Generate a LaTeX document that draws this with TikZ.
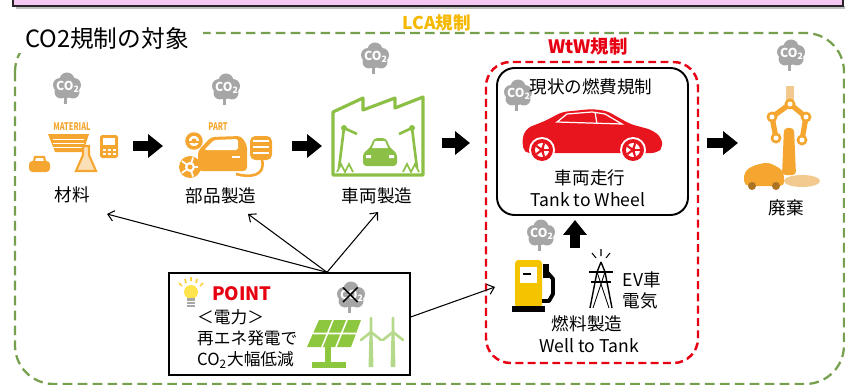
\documentclass[tikz,border=0pt]{standalone}
\usepackage{fontspec}
\setmainfont{Noto Sans CJK JP}
\usetikzlibrary{arrows.meta}

\definecolor{rose}{HTML}{F6C6F2}
\definecolor{lcavert}{HTML}{76A04E}
\definecolor{lcajaune}{HTML}{F5B800}
\definecolor{rouge}{HTML}{E60012}
\definecolor{rougev}{HTML}{E8141E}
\definecolor{orng}{HTML}{F5A631}
\definecolor{sable}{HTML}{F2C98E}
\definecolor{vertf}{HTML}{8CBF45}
\definecolor{vertc}{HTML}{8DC63F}
\definecolor{vertp}{HTML}{B5D98A}
\definecolor{gris}{HTML}{A6A6A6}
\definecolor{jaune}{HTML}{F5C400}
\definecolor{ampoule}{HTML}{FFE44D}

\begin{document}
\begin{tikzpicture}[
    x=0.02cm, y=-0.02cm,
    lbl/.style={font=\fontsize{10}{12}\selectfont},
    tag/.style={text=orng, font=\bfseries\fontsize{6}{6}\selectfont},
    blk/.style={line width=5.5pt, -{Triangle[length=8.5pt,width=13pt]}},
    fine/.style={line width=0.6pt, -{Straight Barb[length=3.5pt,width=6pt]}},
    co2/.pic={
        \fill[gris] (0,-7) circle (7.5) (-7,-2) circle (7) (7,-2) circle (7)
                    (-6,5) circle (6.5) (6,5) circle (6.5) (0,3) circle (8);
        \fill[gris] (-3,10) rectangle (0,17);
        \node[text=white, font=\bfseries\fontsize{7}{7}\selectfont] (-t) at (1,0) {CO\textsubscript{2}};
    }
]
\useasboundingbox (0,0) rectangle (845,385);

% Bandeau rose en haut
\fill[black!25] (16,6) rectangle (845,9);
\draw[fill=rose, draw=black!85, line width=1pt] (13,-20) rectangle (843,6);

% Cadre LCA
\draw[lcavert, line width=1.3pt, dash pattern=on 5.5pt off 3pt, rounded corners=22pt] (15,33) rectangle (844,384);
\node[fill=white, inner xsep=8pt, inner ysep=2pt, font=\fontsize{13.5}{15}\selectfont] (T) at (107,38) {CO2規制の対象};
\node[text=lcajaune, font=\bfseries\fontsize{10}{12}\selectfont] (L) at (437,23) {LCA規制};

% Cadre WtW
\draw[rouge, line width=1.4pt, dash pattern=on 4.5pt off 2.5pt, rounded corners=14pt] (486,62) rectangle (698,363);
\node[text=rouge, font=\bfseries\fontsize{10.5}{12}\selectfont] (W) at (588,47) {WtW規制};
\draw[line width=1.1pt, rounded corners=10pt] (497,68) rectangle (688,215);

% Nuages CO2
\pic (c1) at (67,87) {co2};
\pic (c2) at (226,88) {co2};
\pic (c3) at (375,57) {co2};
\pic (c4) at (518,94) {co2};
\pic (c5) at (541,234) {co2};
\pic (c6) at (791,54) {co2};
\pic (c7) at (351,296) {co2};

% Matériau
\node[tag] (mt) at (72,127) {\scalebox{0.7}[1]{MATERIAL}};
\fill[orng] (48,134) -- (89,134) -- (83,152) -- (55,152) -- cycle;
\foreach \y in {139,143,147} \draw[white, line width=0.5pt] (53,\y) -- (84,\y);
\draw[orng, line width=1.2pt, fill=orng!35] (83,146) -- (89,146) -- (89,155) -- (96,171) -- (76,171) -- (83,155) -- cycle;
\fill[orng, rounded corners=1pt] (100,135) rectangle (118,158);
\fill[white] (103,138) rectangle (115,145);
\foreach \x in {104,109,114} \foreach \y in {150,154} \fill[white] (\x-1.5,\y-1) rectangle (\x+1.5,\y+1);
\fill[orng, rounded corners=2pt] (29,161) rectangle (50,172);
\draw[orng, line width=1.2pt] (34,161) -- (35,157) -- (44,157) -- (45,161);
\node[lbl] (m) at (72,195) {材料};

% Pièces
\node[tag] (pa) at (218,127) {\scalebox{0.7}[1]{PART}};
\fill[orng] (190,167) circle (11);
\fill[white] (190,167) circle (5);
\foreach \a in {0,72,...,288} \draw[white, line width=1pt] (190,167) -- ++(\a:10);
\fill[orng] (190,167) circle (2.5);
\draw[orng, line width=2pt] (194,141) circle (7);
\fill[orng] (194,141) circle (2.5);
\draw[orng, line width=1.5pt] (187,142) -- (201,142);
\fill[orng, rounded corners=2pt] (198,171) -- (198,151) -- (211,137) -- (241,136) -- (247,145) -- (247,171) -- cycle;
\fill[white, rounded corners=1pt] (204,150) -- (214,140) -- (238,139) -- (238,150) -- cycle;
\fill[white] (232,156) rectangle (240,158);
\fill[orng, rounded corners=3pt] (250,136) rectangle (272,160);
\foreach \y in {141,147,153} \draw[white, line width=0.8pt] (253,\y) -- (269,\y);
\draw[orng, line width=1.5pt] (262,160) .. controls (266,176) and (250,178) .. (236,174);
\node[lbl] (p) at (221,196) {部品製造};

% Usine
\draw[vertf, line width=1.8pt, line join=round] (333,112) -- (363,98) -- (363,110) -- (395,98) -- (395,108) -- (423,97) -- (423,175) -- (333,175) -- cycle;
\fill[vertf, rounded corners=2pt] (363,166) -- (363,153) -- (370,148) -- (374,138) -- (386,138) -- (390,148) -- (397,153) -- (397,166) -- cycle;
\fill[white] (375,141) -- (385,141) -- (388,148) -- (372,148) -- cycle;
\fill[white] (366,155) rectangle (371,158) (389,155) rectangle (394,158);
\draw[vertf, line width=1.5pt] (339,168) -- (344,128) -- (357,134);
\draw[vertf, line width=1.5pt] (417,168) -- (412,128) -- (399,134);
\fill[vertf] (344,128) circle (3) (412,128) circle (3);
\draw[vertf, line width=1pt] (337,172) -- (341,164) -- (345,172) -- (349,164) -- (353,172);
\draw[vertf, line width=1pt] (403,172) -- (407,164) -- (411,172) -- (415,164) -- (419,172);
\node[lbl] (v) at (377,196) {車両製造};

% Voiture rouge
\node[lbl] (r) at (591,87) {現状の燃費規制};
\fill[rougev, rounded corners=3pt] (524,153) -- (522,138) -- (527,128) -- (545,121) -- (562,112) -- (592,109) -- (607,111) -- (630,124) -- (652,130) -- (661,137) -- (663,147) -- (657,153) -- cycle;
\draw[white, line width=0.7pt] (557,122) -- (567,114) -- (592,112) -- (605,114) -- (622,124) -- cycle;
\draw[white, line width=0.7pt] (595,112) -- (597,124);
\foreach \x in {542,633} {
    \fill[white] (\x,150) circle (13);
    \fill[rougev] (\x,150) circle (11);
    \fill[white] (\x,150) circle (7);
    \foreach \a in {0,72,...,288} \draw[rougev, line width=1.2pt] (\x,150) -- ++(\a:7);
    \fill[rougev] (\x,150) circle (2.5);
}
\node[lbl] (tw1) at (590,178) {車両走行};
\node[lbl] (tw2) at (588,200) {Tank to Wheel};

% Pompe et pylône
\fill[jaune, rounded corners=2pt] (515,260) rectangle (542,308);
\fill[white] (520,267) rectangle (537,283);
\draw[line width=1.2pt] (523,274) -- (531,274);
\fill (512,306) rectangle (545,312);
\draw[line width=2.2pt, line join=round] (542,301) -- (549,301) -- (553,294) -- (553,279) -- (547,272);
\fill (543,264) rectangle (549,278);
\draw[line width=0.6pt] (601,249) -- (601,256) (592,253) -- (596,258) (610,253) -- (606,258);
\draw[line width=0.8pt] (601,262) -- (597,272) -- (590,308) (601,262) -- (605,272) -- (612,308);
\draw[line width=0.8pt] (589,272) -- (613,272) (591,282) -- (611,282);
\draw[line width=0.5pt] (597,272) -- (609,308) (605,272) -- (593,308);
\node[lbl] (ev1) at (642,280) {EV車};
\node[lbl] (ev2) at (640,301) {電気};
\node[lbl] (wt1) at (587,324) {燃料製造};
\node[lbl] (wt2) at (589,346) {Well to Tank};

% Recyclage
\draw[sable, line width=5pt] (790,86) -- (790,104);
\draw[orng, line width=3pt, line join=round] (772,117) -- (790,104) -- (806,117);
\draw[orng, line width=3pt] (772,117) -- (776,138) (806,117) -- (802,140);
\fill[orng, rounded corners=2pt] (784,128) -- (794,128) -- (796,175) -- (782,175) -- cycle;
\foreach \x/\y in {772/117, 806/117, 776/138, 802/140, 790/104} {
    \fill[orng] (\x,\y) circle (5.5);
    \fill[white] (\x,\y) circle (2.5);
}
\fill[orng, rounded corners=3pt] (744,186) -- (744,172) -- (752,166) -- (768,162) -- (783,170) -- (785,186) -- cycle;
\fill[orng!70!black] (752,186) circle (4) (776,186) circle (4);
\fill[sable] (802,181) ellipse (18 and 6);
\node[lbl] (d) at (786,208) {廃棄};

% Flèches pleines
\coordinate (A1) at (133,146); \coordinate (B1) at (163,146);
\coordinate (A2) at (292,146); \coordinate (B2) at (322,146);
\coordinate (A3) at (442,143); \coordinate (B3) at (470,143);
\coordinate (A4) at (707,143); \coordinate (B4) at (738,143);
\coordinate (A5) at (575,248); \coordinate (B5) at (575,220);
\foreach \i in {1,...,5} \draw[blk] (A\i) -- (B\i);

% Encadré POINT
\node[draw, line width=0.8pt, minimum width=4.82cm, minimum height=2.04cm, inner sep=0pt] (PT) at (289.5,324) {};
\fill[ampoule] (191,292) circle (7);
\fill[gray!70] (187,298) rectangle (195,307);
\draw[white, line width=0.4pt] (187,301) -- (195,301) (187,304) -- (195,304);
\draw[ampoule!80!orange, line width=1pt] (179,283) -- (182,286) (185,279) -- (186,283) (191,277) -- (191,281) (197,279) -- (196,283) (203,283) -- (200,286);
\node[text=rouge, font=\bfseries\fontsize{10.5}{12}\selectfont, anchor=west] (po) at (206,294) {POINT};
\node[align=left, anchor=west, font=\fontsize{9.5}{12}\selectfont] (pt) at (191,339) {＜電力＞\\再エネ発電で\\CO\textsubscript{2}大幅低減};
\node[font=\fontsize{14}{14}\selectfont] (X) at (351,296) {×};
\fill[vertc] (319,320) -- (361,320) -- (351,347) -- (307,347) -- cycle;
\draw[white, line width=0.9pt] (333,320) -- (322,347) (347,320) -- (336,347) (313,333.5) -- (356,333.5);
\fill[vertc] (325,347) rectangle (331,362);
\fill[vertc] (312,362) rectangle (346,368);
\foreach \x in {371,393} {
    \fill[vertp] (\x-1.5,332) -- (\x+1.5,332) -- (\x+2.5,367) -- (\x-2.5,367) -- cycle;
    \draw[vertp, line width=1.5pt, line cap=round] (\x,332) -- (\x,318) (\x,332) -- (\x-10,340) (\x,332) -- (\x+10,340);
}

% Flèches fines
\coordinate (t1) at (107,214);
\coordinate (t2) at (248,214);
\coordinate (t3) at (378,212);
\coordinate (t4) at (495,287);
\draw[fine] ([xshift=0.75cm]PT.north) -- (t1);
\draw[fine] ([xshift=0.75cm]PT.north) -- (t2);
\draw[fine] ([xshift=0.75cm]PT.north) -- (t3);
\draw[fine] ([yshift=0.14cm]PT.east) -- (t4);

\end{tikzpicture}
\end{document}
